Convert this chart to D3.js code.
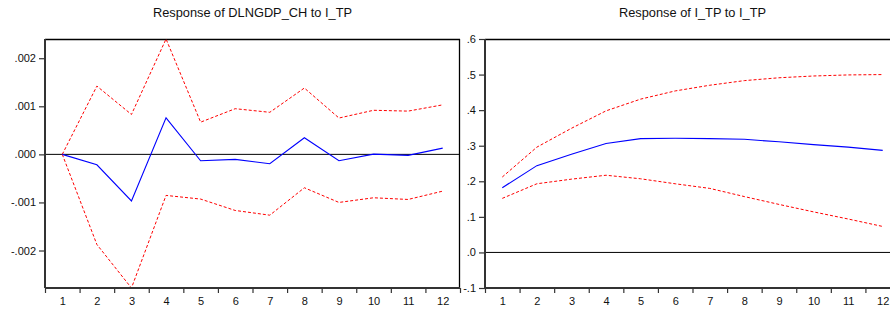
<!DOCTYPE html>
<html>
<head>
<meta charset="utf-8">
<script src="https://cdn.jsdelivr.net/npm/d3@7"></script>
<style>
  html, body { margin: 0; padding: 0; background: #fff; overflow: hidden; }
  svg { display: block; font-family: "Liberation Sans", Arial, sans-serif; }
</style>
</head>
<body>
<svg id="chart" width="890" height="309"></svg>
<script>
// ---- data ----
const periods = [1,2,3,4,5,6,7,8,9,10,11,12];

// Panel 1: Response of DLNGDP_CH to I_TP
const gdpResponse = [0.0, -0.000217, -0.00097, 0.00076, -0.000133, -0.000104, -0.000195, 0.000346, -0.000133, 0.000005, -0.00002, 0.00013];
const gdpUpper    = [0.0, 0.00142, 0.00083, 0.0024, 0.00067, 0.00095, 0.000875, 0.00138, 0.000756, 0.000917, 0.0009, 0.00103];
const gdpLower    = [0.0, -0.001875, -0.00278, -0.000854, -0.00093, -0.001167, -0.001265, -0.000695, -0.001, -0.000903, -0.000938, -0.000765];
const gdpTicks    = [-0.002, -0.001, 0.0, 0.001, 0.002];
const gdpTickLabels = ["-.002", "-.001", ".000", ".001", ".002"];

// Panel 2: Response of I_TP to I_TP
const tpResponse = [0.182, 0.244, 0.276, 0.306, 0.320, 0.321, 0.320, 0.318, 0.311, 0.303, 0.296, 0.287];
const tpUpper    = [0.212, 0.296, 0.349, 0.398, 0.431, 0.454, 0.470, 0.483, 0.491, 0.496, 0.499, 0.500];
const tpLower    = [0.152, 0.193, 0.206, 0.217, 0.207, 0.193, 0.180, 0.157, 0.135, 0.114, 0.094, 0.073];
const tpTicks    = [-0.1, 0.0, 0.1, 0.2, 0.3, 0.4, 0.5, 0.6];
const tpTickLabels = ["-.1", ".0", ".1", ".2", ".3", ".4", ".5", ".6"];

const titles = ["Response of DLNGDP_CH to I_TP", "Response of I_TP to I_TP"];

// ---- drawing ----
const svg = d3.select("#chart");

function drawPanel(cfg) {
  const g = svg.append("g");
  const x = d3.scaleLinear().domain([0.5, 12.5]).range([cfg.left, cfg.right]);
  const y = d3.scaleLinear().domain(cfg.yDomain).range([cfg.bottom, cfg.top]);

  // title
  g.append("text")
    .attr("x", (cfg.left + cfg.right) / 2)
    .attr("y", 17)
    .attr("text-anchor", "middle")
    .attr("font-size", "12.8px")
    .attr("fill", "#111")
    .text(cfg.title);

  // frame top & right
  g.append("line").attr("x1", cfg.left).attr("x2", cfg.right)
    .attr("y1", cfg.top + 0.5).attr("y2", cfg.top + 0.5)
    .attr("stroke", "#000").attr("stroke-width", 1.3);
  g.append("line").attr("x1", cfg.right - 0.5).attr("x2", cfg.right - 0.5)
    .attr("y1", cfg.top).attr("y2", cfg.bottom)
    .attr("stroke", "#000").attr("stroke-width", 1.3);

  // zero line
  g.append("line").attr("x1", cfg.left).attr("x2", cfg.right)
    .attr("y1", y(0)).attr("y2", y(0))
    .attr("stroke", "#000").attr("stroke-width", 1);

  // lines
  const line = d3.line().x((d, i) => x(periods[i])).y(d => y(d));
  g.append("path").datum(cfg.upper).attr("d", line)
    .attr("fill", "none").attr("stroke", "#ff0000").attr("stroke-width", 1)
    .attr("stroke-dasharray", "3,2");
  g.append("path").datum(cfg.lower).attr("d", line)
    .attr("fill", "none").attr("stroke", "#ff0000").attr("stroke-width", 1)
    .attr("stroke-dasharray", "3,2");
  g.append("path").datum(cfg.resp).attr("d", line)
    .attr("fill", "none").attr("stroke", "#0000ff").attr("stroke-width", 1.1);

  // y axis
  const yAxis = d3.axisLeft(y).tickValues(cfg.ticks)
    .tickFormat((d, i) => cfg.tickLabels[i]).tickSize(6).tickPadding(3);
  const ya = g.append("g").attr("transform", `translate(${cfg.left},0)`).call(yAxis);
  ya.select(".domain").attr("stroke", "#333").attr("stroke-width", 2)
    .attr("d", `M0,${cfg.top}V${cfg.bottom}`);
  ya.selectAll(".tick line").attr("stroke", "#333").attr("stroke-width", 1.2);
  ya.selectAll(".tick text").attr("font-size", "11px").attr("fill", "#111")
    .attr("font-family", "'Liberation Sans', Arial, sans-serif");

  // x axis: labels at centers
  const xLabels = d3.axisBottom(x).tickValues(periods).tickSize(0).tickPadding(9)
    .tickFormat(d3.format("d"));
  const xa = g.append("g").attr("transform", `translate(0,${cfg.bottom})`).call(xLabels);
  xa.select(".domain").remove();
  xa.selectAll(".tick text").attr("font-size", "11px").attr("fill", "#111")
    .attr("font-family", "'Liberation Sans', Arial, sans-serif");

  // x axis: tick marks at period boundaries
  const xMarks = d3.axisBottom(x).tickValues(d3.range(0.5, 12.6, 1)).tickSize(5).tickFormat("");
  const xm = g.append("g").attr("transform", `translate(0,${cfg.bottom})`).call(xMarks);
  xm.select(".domain").attr("stroke", "#333").attr("stroke-width", 2)
    .attr("d", `M${cfg.left},0H${cfg.right}`);
  xm.selectAll(".tick line").attr("stroke", "#333").attr("stroke-width", 1.2);
}

drawPanel({
  title: titles[0], left: 45, right: 460, top: 39, bottom: 288,
  yDomain: [-0.00278, 0.0024],
  resp: gdpResponse, upper: gdpUpper, lower: gdpLower,
  ticks: gdpTicks, tickLabels: gdpTickLabels
});
drawPanel({
  title: titles[1], left: 485, right: 900, top: 39, bottom: 288,
  yDomain: [-0.1, 0.6],
  resp: tpResponse, upper: tpUpper, lower: tpLower,
  ticks: tpTicks, tickLabels: tpTickLabels
});
</script>
</body>
</html>
